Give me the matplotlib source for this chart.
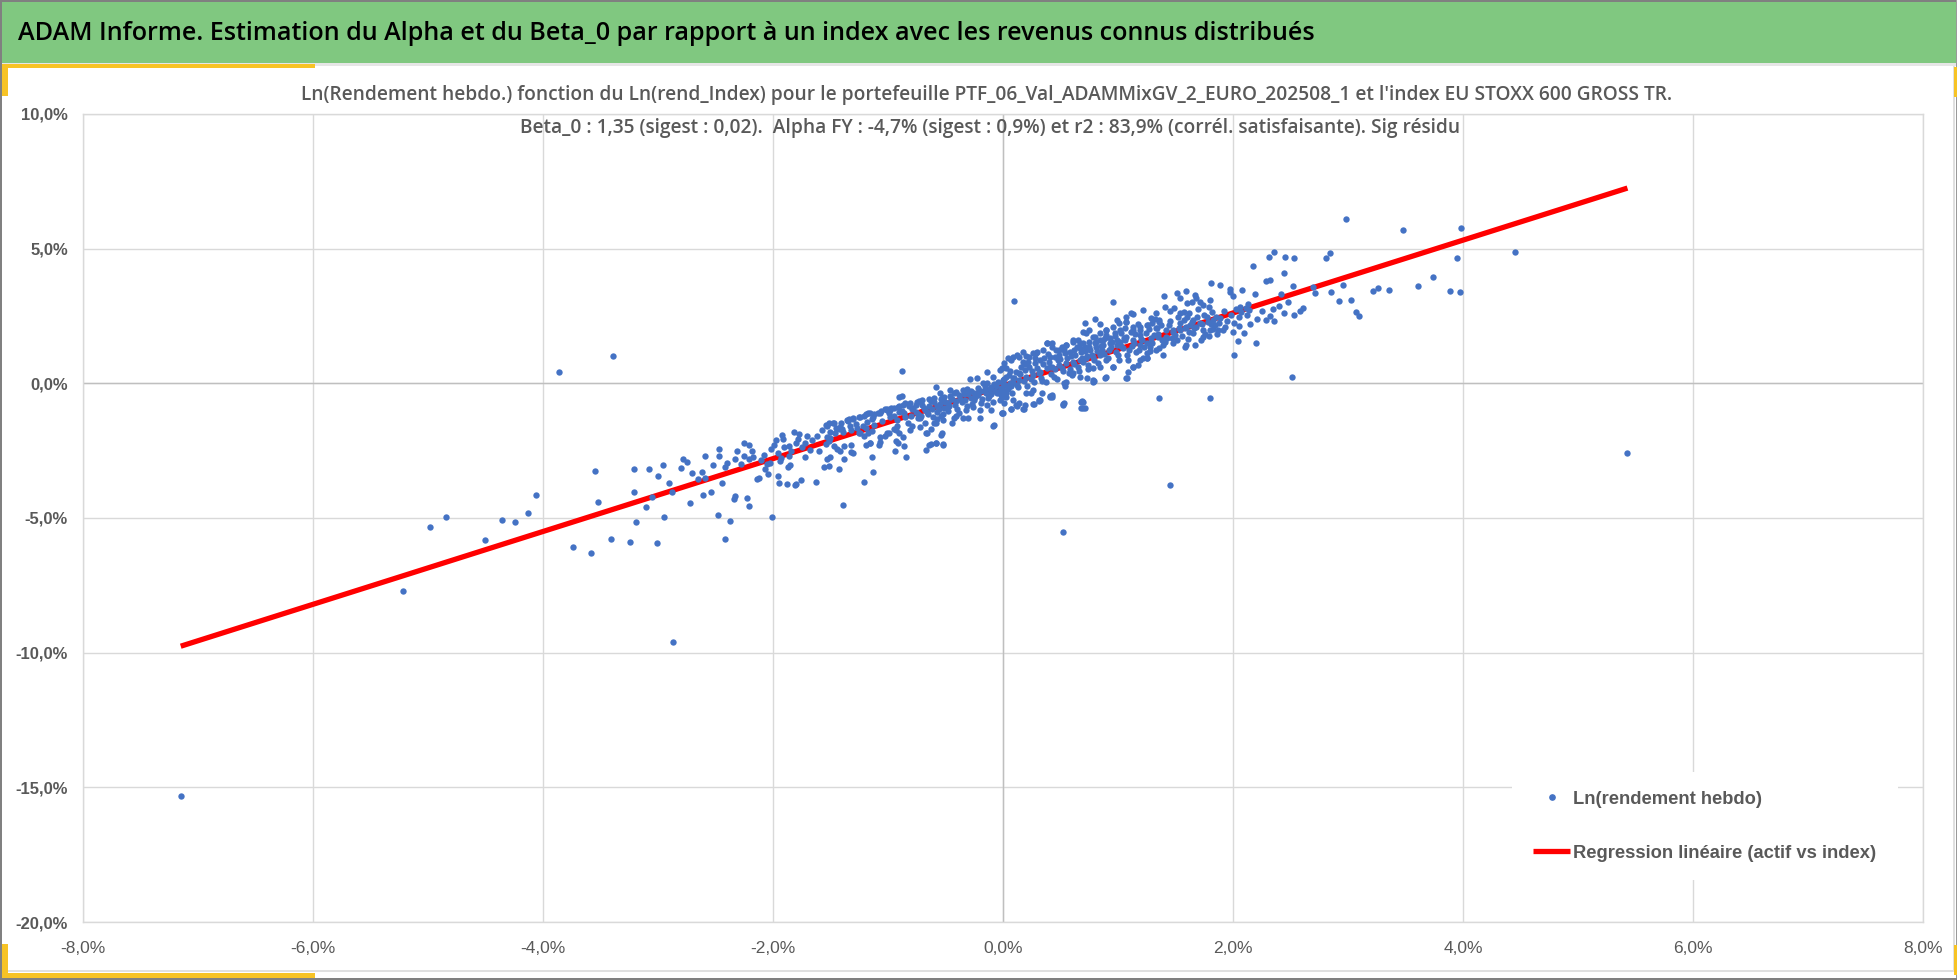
import matplotlib
matplotlib.use("Agg")
import matplotlib.pyplot as plt
from matplotlib import font_manager
from matplotlib.patches import Rectangle
from matplotlib.lines import Line2D

# ---------------- data (weekly log returns, %) ----------------
header_title = "ADAM Informe. Estimation du Alpha et du Beta_0 par rapport à un index avec les revenus connus distribués"
chart_title_1 = ("Ln(Rendement hebdo.) fonction du Ln(rend_Index) pour le portefeuille "
                 "PTF_06_Val_ADAMMixGV_2_EURO_202508_1 et l'index EU STOXX 600 GROSS TR.")
chart_title_2 = ("Beta_0 : 1,35 (sigest : 0,02).  Alpha FY : -4,7% (sigest : 0,9%) et r2 : 83,9% "
                 "(corrél. satisfaisante). Sig résidu")
series_labels = ["Ln(rendement hebdo)", "Regression linéaire (actif vs index)"]

x_ticks = [-8, -6, -4, -2, 0, 2, 4, 6, 8]
x_tick_labels = ["-8,0%", "-6,0%", "-4,0%", "-2,0%", "0,0%", "2,0%", "4,0%", "6,0%", "8,0%"]
y_ticks = [-20, -15, -10, -5, 0, 5, 10]
y_tick_labels = ["-20,0%", "-15,0%", "-10,0%", "-5,0%", "0,0%", "5,0%", "10,0%"]

# outliers / far points
idx_out = [-7.15, -5.22, -4.98, -4.84, -4.50, -4.36, -4.24, -4.13, -4.06, -3.86, -3.39, -3.74, -3.58,
           -2.87, -3.55, -3.52, 0.52, 1.45, 5.43, 4.45, 2.98, 3.48, 3.98, -0.88]
ret_out = [-15.31, -7.70, -5.33, -4.96, -5.80, -5.06, -5.15, -4.82, -4.13, 0.42, 1.02, -6.08, -6.31,
           -9.60, -3.25, -4.42, -5.52, -3.76, -2.60, 4.87, 6.12, 5.70, 5.75, 0.46]

# lower-left part of the cloud
idx_low = [-3.21, -3.08, -2.96, -2.80, -2.78, -2.75, -2.70, -2.62, -2.59, -2.59, -2.61, -2.54, -2.47, -2.47,
           -2.42, -2.44, -2.48, -2.37, -2.42, -2.33, -2.31, -2.25, -2.25, -2.21, -2.18, -2.21, -2.17, -2.14,
           -2.12, -2.07, -2.04, -2.05, -2.03, -2.33, -2.34, -2.23, -2.21, -2.01, -1.97, -1.99, -1.92, -1.91,
           -1.94, -1.93, -1.96, -1.95, -1.88, -1.87, -1.85, -1.86, -1.86, -1.80, -1.82, -1.77, -1.72, -1.72,
           -1.68, -1.80, -1.81, -1.76, -1.63, -1.60, -1.56, -1.51, -1.53, -1.50, -1.54, -1.51, -1.50, -1.47,
           -1.44, -1.43, -1.42, -1.39, -1.38, -1.38, -1.32, -1.30, -1.32,
           -1.53, -1.51, -1.47, -1.43, -1.41, -1.35, -1.34, -1.30, -1.27, -1.24, -1.21, -1.19, -1.17, -1.14,
           -1.12, -1.09, -1.06, -1.03, -1.01, -0.99, -0.98,
           -1.24, -1.21, -1.17, -1.14, -1.19, -1.16, -1.14, -1.13, -1.21, -1.08, -1.07, -1.03, -0.99, -0.95,
           -0.92, -0.90, -0.94, -0.93, -0.91, -0.86, -0.84,
           -3.41, -3.24, -3.01, -3.19, -3.21, -3.05, -2.88]
ret_low = [-3.19, -3.19, -3.05, -3.13, -2.80, -2.92, -3.33, -3.28, -2.69, -3.53, -4.16, -4.04, -2.44, -2.69,
           -3.10, -3.71, -4.88, -5.10, -5.77, -2.80, -2.53, -2.23, -2.69, -2.30, -2.51, -2.82, -2.74, -3.57,
           -3.52, -3.19, -3.36, -3.01, -2.95, -4.20, -4.28, -4.26, -4.54, -4.96, -2.12, -2.28, -1.93, -2.06,
           -2.88, -2.76, -3.45, -3.69, -3.75, -3.11, -3.05, -2.70, -2.33, -2.23, -1.82, -1.87, -2.20, -2.72,
           -2.48, -3.75, -3.76, -3.60, -3.65, -2.51, -3.10, -3.08, -2.80, -2.72, -2.27, -2.14, -2.02, -2.33,
           -2.43, -3.19, -2.51, -4.53, -2.80, -2.33, -2.55, -2.60, -2.28,
           -1.58, -1.46, -1.46, -1.68, -1.46, -1.40, -1.34, -1.31, -1.65, -1.24, -1.21, -1.15, -1.09, -1.31,
           -1.15, -1.09, -1.03, -0.97, -0.94, -1.09, -0.99,
           -1.83, -1.96, -1.83, -1.77, -2.30, -2.23, -2.72, -3.28, -3.65, -2.30, -2.18, -1.96, -1.83, -1.71,
           -1.58, -1.83, -2.51, -2.14, -2.20, -2.33, -2.74,
           -5.77, -5.89, -5.94, -5.15, -4.04, -4.22, -4.04]

# central part, negative side
idx_mid = [-0.88, -0.95, -0.90, -0.88, -0.85, -0.82, -0.79, -0.76, -0.73, -0.69, -0.64, -0.63, -0.60, -0.57,
           -0.54, -0.51, -0.48, -0.46, -0.43, -0.41, -0.37, -0.34, -0.31, -0.28, -0.25, -0.22, -0.19, -0.16,
           -0.14, -0.11, -0.08, -0.05, -0.02, 0.00, 0.04, 0.07,
           -0.83, -0.79, -0.74, -0.71, -0.68, -0.66, -0.63, -0.60, -0.57, -0.54, -0.53, -0.52, -0.58, -0.63,
           -0.67, -0.48, -0.44, -0.41, -0.35, -0.30, -0.20, -0.08, -0.10, -0.01, 0.07, 0.12, 0.18, 0.24,
           0.27, 0.31, 0.34, 0.43, 0.53, 0.69, 0.71, 0.53, 0.79]
ret_mid = [-0.47, -0.90, -0.84, -1.03, -0.74, -0.84, -0.97, -0.82, -0.66, -0.90, -0.84, -0.66, -0.53, -0.84,
           -0.59, -0.90, -0.72, -0.47, -0.35, -0.66, -0.59, -0.41, -0.22, -0.53, -0.35, -0.16, -0.28, -0.10,
           0.02, -0.22, -0.04, -0.35, -0.16, 0.02, -0.22, -0.10,
           -1.46, -1.58, -1.28, -1.21, -1.46, -1.83, -1.71, -1.46, -1.34, -1.21, -1.86, -2.24, -2.20, -2.24,
           -2.49, -1.03, -1.46, -1.21, -1.28, -1.28, -1.28, -1.55, -0.99, -1.09, -0.97, -0.84, -0.94, -0.37,
           -0.78, -0.62, -0.35, -0.45, -0.74, -0.66, -0.90, 0.02, 0.09]

# upper-right part of the cloud
idx_high = [2.31, 2.36, 2.45, 2.53, 2.17, 2.81, 2.84, 3.95, 2.29, 2.32, 2.44, 2.52, 2.70, 2.71, 2.85, 2.96,
            2.92, 3.03, 3.07, 3.10, 3.22, 3.26, 3.36, 3.61, 3.74, 3.89, 3.97, 1.81, 1.89, 1.97, 1.97, 2.00,
            2.08, 2.19, 2.13, 2.11, 2.06, 2.03, 2.07, 2.14, 2.21, 2.29, 2.32, 2.36, 2.40, 2.44, 2.48, 2.53,
            2.58, 2.61, 2.00, 2.05, 2.01, 2.04, 2.10, 2.15, 2.20, 2.01, 2.51, 1.36, 1.80]
ret_high = [4.70, 4.89, 4.68, 4.64, 4.36, 4.64, 4.85, 4.64, 3.81, 3.84, 4.09, 3.61, 3.57, 3.34, 3.40, 3.65,
            3.06, 3.10, 2.66, 2.50, 3.43, 3.53, 3.47, 3.61, 3.94, 3.43, 3.38, 3.71, 3.65, 3.50, 3.40, 3.24,
            3.47, 3.31, 2.95, 2.79, 2.82, 2.75, 2.66, 2.72, 2.39, 2.35, 2.50, 2.32, 2.87, 2.60, 3.01, 2.54,
            2.69, 2.81, 1.92, 2.13, 2.23, 1.58, 1.86, 2.20, 1.51, 1.04, 0.25, -0.53, -0.53]

# central part, positive side
idx_pos = [1.40, 1.51, 1.54, 1.59, 1.60, 1.64, 1.67, 1.68, 1.71, 1.74, 1.80, 1.79, 1.75, 1.78, 1.83, 1.85,
           1.89, 1.80, 1.83, 1.87, 1.91, 1.79, 1.84, 1.41, 1.45, 1.49, 1.54, 1.57, 1.60, 1.64, 1.68, 1.71,
           1.74, 1.65, 1.67, 1.58, 1.51, 1.43, 1.39, 1.39, 1.33, 1.28, 1.25, 1.22, 1.17, 1.13, 1.09, 1.08,
           1.22, 1.33, 1.29, 1.36, 1.13, 1.11, 1.07, 1.07, 1.19, 1.26, 1.33, 1.42, 1.48, 1.54, 1.58, 1.62,
           0.99, 0.96, 0.84, 0.80, 0.71, 0.70, 0.75, 0.80, 0.84, 0.90, 0.93, 0.99, 1.03, 1.07, 1.13, 1.19,
           1.25, 1.29, 1.35, 1.19, 1.13, 1.06, 1.02, 0.97, 0.90, 0.87, 0.81, 0.75, 0.70, 0.65, 0.61, 0.55,
           0.51, 0.46, 0.43, 0.38, 0.35, 0.30, 0.26, 0.20, 0.17, 0.14, 0.09, 0.04, 0.01, -0.01, 0.03, 0.00,
           0.06, 0.10, 0.14, 0.19, 0.23, 0.28, 0.32, 0.36, 0.41, 0.45, 0.49, 0.54, 0.58, 0.62, 0.67, 0.71,
           0.75, 0.81, 0.87, 0.93, 0.99, 1.04, 1.10, 1.16, 1.25, 0.96, 1.01, 0.90, 0.84, 0.78, 0.72, 0.67,
           0.61, 0.55, 0.49, 0.43, 0.38, 0.32, 0.26, 0.20, 0.14, 0.09, 0.04, 0.00, -0.01, 0.01, 0.00, 0.07,
           0.11, 0.17, 0.19, 0.26, 0.31, 0.41, 0.43, 0.52, 0.68, 0.70, 0.54, 0.55, 0.61, 0.67, 0.73, 0.78,
           0.74, 0.78, 0.84, 0.89, 0.10]
ret_pos = [3.24, 3.34, 3.16, 3.43, 2.97, 3.03, 3.28, 3.16, 3.03, 2.91, 3.10, 2.85, 2.54, 2.29, 2.35, 2.48,
           2.41, 1.98, 2.01, 1.98, 1.98, 1.76, 2.17, 2.85, 2.70, 2.79, 2.60, 2.35, 2.48, 2.29, 2.10, 2.23,
           1.98, 1.86, 1.42, 1.36, 1.61, 1.67, 1.42, 1.05, 1.24, 1.36, 1.11, 0.93, 0.68, 0.59, 0.43, 0.21,
           2.72, 2.62, 2.41, 2.29, 2.58, 2.60, 2.48, 2.29, 2.10, 2.17, 2.04, 1.98, 1.92, 1.98, 2.04, 1.92,
           2.35, 3.03, 2.20, 2.39, 2.25, 1.92, 1.98, 1.73, 1.86, 1.98, 1.67, 1.61, 1.86, 1.73, 1.61, 1.42,
           1.49, 1.67, 1.73, 1.80, 1.98, 2.04, 1.98, 1.86, 1.80, 1.61, 1.55, 1.55, 1.49, 1.61, 1.55, 1.42,
           1.36, 1.24, 1.49, 1.51, 1.24, 1.18, 1.11, 1.02, 1.18, 0.99, 0.99, 0.93, 0.74, 0.56, 0.25, 0.12,
           0.00, 0.19, 0.37, 0.50, 0.62, 0.74, 0.87, 0.93, 0.99, 0.99, 1.05, 1.11, 1.18, 1.24, 1.30, 1.36,
           1.36, 1.36, 1.42, 1.49, 1.42, 1.30, 1.24, 1.18, 0.93, 0.62, 0.87, 0.87, 1.05, 0.99, 0.93, 0.87,
           0.80, 0.74, 0.68, 0.62, 0.56, 0.43, 0.31, 0.25, 0.12, 0.00, -0.12, -0.25, -0.50, -0.74, -1.11, -0.97,
           -0.80, -0.97, -0.80, -0.77, -0.66, -0.46, -0.52, -0.77, -0.68, -0.93, -0.09, 0.06, 0.37, 0.25, 0.19, 0.06,
           0.68, 0.56, 0.62, 0.21, 3.06]

# band around the origin
idx_band = [-1.54, -1.48, -1.42, -1.36, -1.30, -1.25, -1.53, -1.46, -1.39, -1.32, -1.25, -1.19, -1.16, -1.13,
            -1.07, -1.01, -0.97, -0.91, -0.87, -0.81, -0.75, -0.70, -0.64, -0.58, -0.55, -0.51, -0.46, -0.41,
            -0.35, -0.29, -0.23, -0.17, -0.14, -0.09, -0.03, 0.03, 0.07, 0.12, 0.17, 0.23, 0.29, 0.38,
            0.43, 0.49, 0.55, 0.61, 0.67, 0.72, 0.78, 0.84, 0.90, 0.96, 1.01, 1.07, 1.13, 1.19, 1.25, 1.30,
            1.36, 1.42, 1.48, 1.54, 1.59, 1.65,
            -1.16, -1.07, -1.01, -0.93, -0.87, -0.81, -0.72, -0.67, -0.58, -0.52, -0.43, -0.38, -0.32, -0.26,
            -0.20, -0.14, -0.09, -0.03, 0.03, 0.09, 0.14, 0.20, 0.26, 0.32, 0.41, 0.52, 0.70, 0.68, 0.78, 0.90,
            0.96, 1.07, 1.13, 1.19, 1.25, 1.30, 1.36, 1.48, 1.59, 1.74, -0.90, -0.09, -0.01, -0.54, -0.64, -0.58,
            -0.52]
ret_band = [-1.55, -1.46, -1.61, -1.36, -1.30, -1.24, -1.98, -1.86, -1.79, -1.73, -1.86, -1.67, -1.11, -1.24,
            -1.09, -0.99, -0.93, -0.87, -0.80, -0.74, -0.68, -0.62, -0.59, -0.12, -0.37, -0.50, -0.25, -0.31,
            -0.25, 0.15, 0.19, 0.00, 0.43, 0.25, 0.50, 0.56, 0.87, 1.05, 0.80, 0.99, 1.11, 1.49,
            1.36, 1.24, 1.42, 1.61, 1.49, 1.86, 1.73, 1.61, 1.98, 2.10, 2.23, 2.29, 2.10, 1.98, 2.17, 2.23,
            2.35, 1.73, 1.98, 2.23, 2.10, 2.35,
            -2.23, -1.98, -1.86, -1.73, -1.98, -1.73, -1.61, -1.86, -1.49, -1.36, -1.30, -1.11, -0.99, -0.87,
            -0.99, -0.80, -0.68, -0.62, -0.50, -0.62, -0.74, -0.37, -0.25, -0.62, -0.50, -0.80, -0.68, -0.93, 0.12, 0.25,
            0.62, 0.19, 0.62, 0.87, 0.93, 1.49, 1.30, 1.49, 1.42, 1.73, -0.50, -1.58, -1.11, -1.92, -2.29, -2.23,
            -2.29]

# dense core (estimated inside the solid blob)
idx_core = [-0.62, -0.55, -0.50, -0.45, -0.42, -0.38, -0.33, -0.30, -0.27, -0.24, -0.21, -0.18, -0.15, -0.12,
            -0.10, -0.07, -0.04, -0.02, 0.02, 0.05, 0.08, 0.11, 0.13, 0.16, 0.18, 0.21, 0.22, 0.25, 0.27, 0.30,
            0.33, 0.35, 0.37, 0.40, 0.42, 0.45, 0.47, 0.50, 0.52, 0.56, 0.58, 0.60, 0.63, 0.65, 0.68, 0.70,
            0.73, 0.76, 0.79, 0.82, 0.85, 0.88, 0.92, 0.95, 0.98, 1.02, 1.05, 1.08, 1.12, 1.15, 1.18, 1.21,
            1.24, 1.28, 1.31, 1.34, 1.38, 1.44, 1.47, 1.52, 1.56, 1.62, 1.66, 1.70, 1.72, 1.77, 1.82, 1.86,
            1.92, 1.95,
            -1.05, -0.98, -0.92, -0.86, -0.80, -0.76, -0.72, -0.68, -0.65, -0.61, -0.57, -0.52, -0.49, -1.12,
            -1.18, -1.22, -1.28, -1.33, -1.40, -1.45, -1.50, -1.57, -1.62, -1.66, -1.70, -1.75, -1.78, -1.84,
            -1.90, -1.96, -2.02, -2.08, -2.10, -2.28, -2.40, -2.52, -2.65, -2.90, -3.00, -3.10, -2.72, -2.95]
ret_core = [-0.95, -0.78, -0.70, -0.58, -0.80, -0.45, -0.62, -0.40, -0.75, -0.52, -0.30, -0.58, -0.35, -0.48,
            -0.12, -0.30, 0.05, -0.45, -0.05, 0.30, -0.35, 0.42, -0.15, 0.62, 0.10, -0.10, 0.78, 0.45, 0.05, 0.58,
            0.20, 0.70, 0.05, 0.80, 0.35, 0.55, 0.15, 0.90, 0.45, 0.95, 0.55, 0.30, 1.05, 0.62, 1.15, 0.78,
            1.02, 1.22, 0.85, 1.20, 1.38, 1.10, 1.25, 1.55, 1.15, 1.52, 1.68, 1.05, 1.40, 1.85, 1.25, 1.62,
            1.88, 1.20, 1.80, 2.05, 1.60, 2.15, 1.70, 2.45, 1.75, 2.60, 2.05, 2.75, 1.60, 2.45, 2.65, 1.85,
            2.70, 2.30,
            -1.40, -1.25, -1.35, -1.10, -1.20, -1.05, -1.30, -1.00, -1.15, -1.25, -1.05, -1.15, -0.90, -1.55,
            -1.45, -1.60, -1.50, -1.60, -1.70, -1.65, -1.80, -1.75, -1.95, -2.10, -1.95, -2.35, -2.05, -2.50,
            -2.35, -2.60, -2.45, -2.65, -2.85, -3.00, -2.95, -3.05, -3.55, -3.70, -3.45, -4.60, -4.45, -4.95]

# more points inside the dense core
idx_core2 = [-0.95, -0.90, -0.85, -0.78, -0.74, -0.70, -0.66, -0.60, -0.56, -0.53, -0.47, -0.44, -0.40, -0.36,
             -0.31, -0.28, -0.25, -0.22, -0.19, -0.16, -0.13, -0.10, -0.06, -0.03, 0.01, 0.03, 0.06, 0.09,
             0.12, 0.15, 0.19, 0.24, 0.28, 0.31, 0.34, 0.39, 0.41, 0.44, 0.48, 0.51, 0.53, 0.57, 0.59, 0.62,
             0.64, 0.66, 0.69, 0.71, 0.74, 0.77, 0.80, 0.83, 0.86, 0.89, 0.91, 0.94, 0.97, 1.00, 1.03, 1.06,
             1.09, 1.11, 1.14, 1.17, 1.20, 1.23, 1.27, 1.29, 1.32, 1.35, 1.37, 1.41, 1.45, 1.50, 1.53, 1.57,
             1.61, 1.63, 1.69, 1.73, 1.76, 1.81, 1.88, 1.93, 1.98, 2.05, 2.12, 2.25, 2.35, 2.42]
ret_core2 = [-1.20, -1.05, -1.25, -0.90, -1.15, -0.80, -1.05, -0.70, -0.95, -0.55, -0.85, -0.60, -0.95, -0.70,
             -0.85, -0.30, -0.62, -0.45, -0.72, -0.25, -0.55, -0.38, -0.10, -0.28, 0.15, -0.35, 0.45, 0.20,
             -0.05, 0.35, 0.72, 0.15, 0.95, 0.40, 0.10, 1.10, 0.62, 0.25, 0.85, 0.58, 1.25, 0.40, 1.00, 0.70,
             1.35, 0.45, 0.95, 1.20, 0.55, 1.05, 1.50, 0.75, 1.25, 1.70, 0.95, 1.35, 1.75, 1.05, 1.40, 1.60,
             0.85, 1.90, 1.50, 2.20, 1.65, 1.35, 2.00, 1.55, 2.40, 1.85, 2.15, 1.55, 2.30, 1.80, 2.05, 2.65,
             1.65, 2.15, 2.45, 2.20, 1.85, 2.20, 2.25, 2.10, 2.55, 2.45, 2.55, 2.70, 2.75, 3.30]

# regression line end points
reg_x = [-7.15, 5.43]
reg_y = [-9.76, 7.25]

index_returns = idx_out + idx_low + idx_mid + idx_high + idx_pos + idx_band + idx_core + idx_core2
asset_returns = ret_out + ret_low + ret_mid + ret_high + ret_pos + ret_band + ret_core + ret_core2

# ---------------- styling ----------------
names = {f.name for f in font_manager.fontManager.ttflist}
NARROW = 'Liberation Sans Narrow' if 'Liberation Sans Narrow' in names else 'Liberation Sans'
TFONT = 'Open Sans' if 'Open Sans' in names else 'DejaVu Sans'
BLUE = '#4472C4'
RED = '#FF0000'
GRAY_TXT = '#595959'
GRID = '#D9D9D9'

W, H = 1958, 980
fig = plt.figure(figsize=(W / 100, H / 100), dpi=100)
fig.patch.set_facecolor('white')


def fx(px):
    return px / W


def fy(py):
    return 1 - py / H


def box(x0, y0, x1, y1, color, z=0.5):
    fig.add_artist(Rectangle((fx(x0), fy(y1)), (x1 - x0) / W, (y1 - y0) / H,
                             transform=fig.transFigure, facecolor=color, edgecolor='none', zorder=z))


# frame decoration
box(0, 0, W, 2, '#808080')
box(0, 2, W, 63, '#80C880')
box(0, 63, W, 66, '#E6E6E6')
box(0, 0, 2, H, '#808080')
box(W - 2, 0, W, H, '#9A9A9A')
box(0, H - 2, W, H, '#808080')
box(2, 970, W - 3, 972, '#E0E0E0')
box(1953, 66, 1955, 972, '#E0E0E0')
box(2, 64, 315, 68, '#F7C325')
box(2, 64, 8, 96, '#F7C325')
box(2, 973, 315, 978, '#F7C325')
box(2, 944, 8, 978, '#F7C325')
box(1954, 67, 1957, 97, '#F7C325')
box(1954, 945, 1957, 975, '#F7C325')

# axes
ax = fig.add_axes([fx(83), fy(922), (1923 - 83) / W, (922 - 114) / H])
ax.set_xlim(-8, 8)
ax.set_ylim(-20, 10)
ax.set_xticks(x_ticks)
ax.set_xticklabels(x_tick_labels)
ax.set_yticks(y_ticks)
ax.set_yticklabels(y_tick_labels)
ax.grid(True, color=GRID, linewidth=1.0)
ax.set_axisbelow(True)
ax.axhline(0, color='#BFBFBF', linewidth=1.0, zorder=0.8)
ax.axvline(0, color='#BFBFBF', linewidth=1.0, zorder=0.8)
for s in ax.spines.values():
    s.set_color(GRID)
    s.set_linewidth(1.0)
ax.tick_params(length=0, colors=GRAY_TXT)
ax.tick_params(axis='y', pad=10.8)
ax.tick_params(axis='x', pad=12)
for lbl in ax.get_xticklabels():
    lbl.set_fontfamily(NARROW)
    lbl.set_fontsize(12.5)
    lbl.set_color(GRAY_TXT)
for lbl in ax.get_yticklabels():
    lbl.set_fontfamily(NARROW)
    lbl.set_fontsize(12.0)
    lbl.set_fontweight('bold')
    lbl.set_color(GRAY_TXT)

ax.plot(reg_x, reg_y, color=RED, linewidth=3.8, solid_capstyle='butt', zorder=2)
ax.scatter(index_returns, asset_returns, s=21, color=BLUE, linewidths=0, zorder=3)

renderer = fig.canvas.get_renderer()


def fit_width(t, width_px):
    bb = t.get_window_extent(renderer)
    t.set_fontsize(t.get_fontsize() * width_px / bb.width)


# header
ht = fig.text(fx(18), fy(33), header_title, ha='left', va='center', fontsize=20,
              family=TFONT, weight='semibold', color='black', zorder=5)
fit_width(ht, 1296)

# chart titles
t1 = fig.text(fx(987), fy(95), chart_title_1, ha='center', va='center', fontsize=13,
              family=TFONT, weight='semibold', color=GRAY_TXT, zorder=5)
fit_width(t1, 1366)
t2 = fig.text(fx(990), fy(128), chart_title_2, ha='center', va='center', fontsize=t1.get_fontsize(),
              family=TFONT, weight='semibold', color=GRAY_TXT, zorder=5)

# legend background (hides gridlines)
box(1512, 772, 1898, 880, 'white', z=1)

probe = fig.text(0, 0, series_labels[1], family=NARROW, weight='bold', fontsize=15)
fit_width(probe, 305)
leg_fs = probe.get_fontsize()
probe.remove()
fs_px = leg_fs * 100 / 72

handles = [Line2D([], [], marker='o', linestyle='none', color=BLUE, markersize=3.8),
           Line2D([], [], color=RED, linewidth=3.8, solid_capstyle='butt')]
lab_sp = 1.8


def make_legend(anchor, lab_sp):
    return fig.legend(handles, series_labels, loc='upper left', bbox_to_anchor=anchor,
                      bbox_transform=fig.transFigure, frameon=False, borderpad=0, borderaxespad=0,
                      handlelength=37 / fs_px, handletextpad=3 / fs_px, labelspacing=lab_sp,
                      prop={'family': NARROW, 'size': leg_fs, 'weight': 'bold'}, labelcolor=GRAY_TXT)


anchor = (fx(1533), fy(785))
leg = make_legend(anchor, lab_sp)
for _ in range(3):
    fig.canvas.draw()
    texts = leg.get_texts()
    b0 = texts[0].get_window_extent(renderer)
    b1 = texts[1].get_window_extent(renderer)
    gap = (b0.y0 + b0.y1) / 2 - (b1.y0 + b1.y1) / 2
    lab_sp = lab_sp + (54 - gap) / fs_px
    dx = 1573 - b0.x0
    dy = (H - 799) - (b0.y0 + b0.y1) / 2
    anchor = (anchor[0] + dx / W, anchor[1] + dy / H)
    leg.remove()
    leg = make_legend(anchor, lab_sp)

# x tick labels vertical centring
fig.canvas.draw()
bb = ax.get_xticklabels()[1].get_window_extent(renderer)
cy = (bb.y0 + bb.y1) / 2
shift_px = cy - (H - 948)
ax.tick_params(axis='x', pad=12 + shift_px * 0.72)

fig.savefig('out.png', dpi=100)
